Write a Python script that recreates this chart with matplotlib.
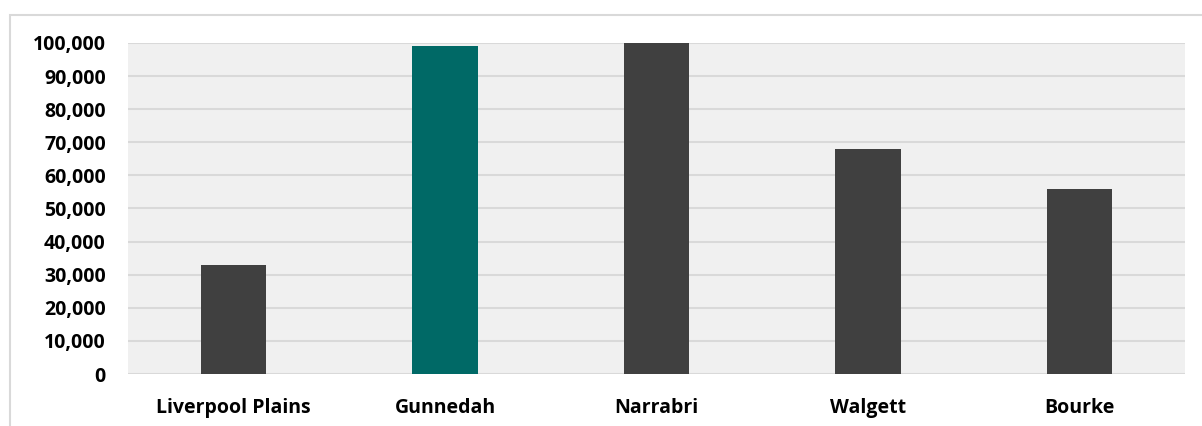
import matplotlib
matplotlib.use("Agg")
import matplotlib.pyplot as plt
from matplotlib.patches import Rectangle
from matplotlib.ticker import FuncFormatter, MultipleLocator

categories = ["Liverpool Plains", "Gunnedah", "Narrabri", "Walgett", "Bourke"]
values = [33000, 99000, 100000, 68000, 56000]
highlight = "Gunnedah"

W, H = 1202, 426
fig = plt.figure(figsize=(W / 100, H / 100), dpi=100)
fig.patch.set_facecolor("white")

# outer border of the chart
fig.patches.append(Rectangle((10 / W, -0.1), 1.2, 1 - 15 / H + 0.1,
                             transform=fig.transFigure, fill=False,
                             edgecolor="#D9D9D9", linewidth=1.5))

ax = fig.add_axes([128 / W, 1 - 374 / H, (1185 - 128) / W, (374 - 43) / H])
ax.set_facecolor("#F0F0F0")

colors = ["#006966" if c == highlight else "#404040" for c in categories]
x = range(len(categories))
ax.bar(x, values, width=0.31, color=colors, zorder=3)

ax.set_xlim(-0.5, len(categories) - 0.5)
ax.set_ylim(0, 100000)
ax.yaxis.set_major_locator(MultipleLocator(10000))
ax.yaxis.set_major_formatter(FuncFormatter(lambda v, p: f"{int(v):,}"))
ax.set_xticks(list(x))
ax.set_xticklabels(categories)

for s in ax.spines.values():
    s.set_visible(False)
ax.grid(axis="y", color="#D9D9D9", linewidth=1.5, zorder=0)
ax.set_axisbelow(True)
ax.tick_params(axis="both", length=0)
ax.tick_params(axis="y", pad=16)
ax.tick_params(axis="x", pad=17)

for lab in ax.get_xticklabels() + ax.get_yticklabels():
    lab.set_fontfamily(["Open Sans", "DejaVu Sans"])
    lab.set_fontweight("bold")
    lab.set_fontsize(14)
    lab.set_color("#000000")

fig.savefig("out.png", dpi=100)
